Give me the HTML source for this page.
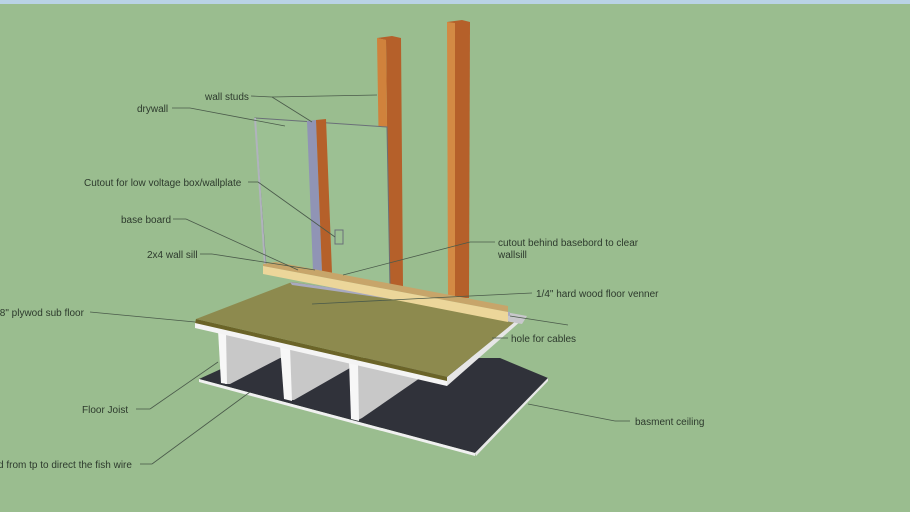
<!DOCTYPE html>
<html><head><style>
html,body{margin:0;padding:0;width:910px;height:512px;overflow:hidden;background:#9abd8f}
svg{display:block}
text{font-family:"Liberation Sans",sans-serif;font-size:10px;fill:#2d3a2d}
</style></head><body>
<svg width="910" height="512" viewBox="0 0 910 512">
<rect x="0" y="0" width="910" height="512" fill="#9abd8f"/>
<rect x="0" y="0" width="910" height="4" fill="#b9d3e6"/>
<!-- basement ceiling -->
<polygon points="199,379 245,358 500,358 548,378 475,453" fill="#30323a"/>
<polygon points="199,379 475,453 475,456 199,382" fill="#f0f0f0"/>
<polygon points="475,453 548,378 548,381 476,456" fill="#e8e8e8"/>
<!-- joist gray faces -->
<polygon points="225,332 282,346 282,357 230,384 225,384" fill="#c8c8c8"/>
<polygon points="290,348 350,362 350,368 294,400 290,400" fill="#c8c8c8"/>
<polygon points="358,364 420,378 362,418 358,420" fill="#c8c8c8"/>
<!-- joist fronts -->
<polygon points="218,330 226,332 227,384 221,383" fill="#f7f7f7"/>
<polygon points="280,345 290,347 292,401 284,399" fill="#f7f7f7"/>
<polygon points="349,361 358,363 359,421 351,419" fill="#f7f7f7"/>
<!-- plywood rim -->
<polygon points="195,322 447,380 447,386 195,328" fill="#f4f4f4"/>
<polygon points="196,319 447,377 447,381 195,323" fill="#6b6428"/>
<polygon points="447,377 522,316 522,320 447,386" fill="#e6e6e6"/>
<!-- plywood top -->
<polygon points="196,319 292,282 522,316 447,377" fill="#8d8a4e"/>
<!-- hole plate -->
<polygon points="505,312 527,316 522,324 500,320" fill="#c8c8cc"/>
<!-- floor veneer strip -->
<polygon points="290,282 510,312 510,316 292,285" fill="#a9aac0"/>
<!-- studs back -->
<polygon points="377,38 392,36 401,38 403,287 389,285 386,40" fill="#b5602a"/>
<polygon points="377,38 386,40 389,285 381,283" fill="#d0823c"/>
<polygon points="447,22 462,20 470,22 469,298 455,298" fill="#b5602a"/>
<polygon points="447,22 455,23 455,298 448,296" fill="#d38a44"/>
<!-- drywall -->
<polygon points="255,118 387,127 390,287 266,266" fill="#9cc093" stroke="#6a6f78" stroke-width="1"/>
<line x1="255" y1="118" x2="265" y2="265" stroke="#b0b3bd" stroke-width="2"/>
<!-- near stud -->
<polygon points="307,121 316,120 322,272 313,271" fill="#9094b5"/>
<polygon points="316,120 326,119 332,273 322,272" fill="#b5602a"/>
<!-- cutout -->
<rect x="335" y="230" width="8" height="14" fill="none" stroke="#6a6f78"/>
<!-- baseboard -->
<polygon points="263,264 276,262 508,306 508,312 263,266" fill="#c7a56a"/>
<polygon points="263,266 508,312 508,322 263,274" fill="#ecd69a"/>
<!-- leader lines -->
<g stroke="#4a5a4a" stroke-width="0.8" fill="none">
<line x1="251" y1="96" x2="272" y2="97"/><line x1="272" y1="97" x2="377" y2="95"/><line x1="272" y1="97" x2="312" y2="122"/>
<line x1="172" y1="108" x2="190" y2="108"/><line x1="190" y1="108" x2="285" y2="126"/>
<line x1="248" y1="182" x2="258" y2="182"/><line x1="258" y1="182" x2="335" y2="237"/>
<line x1="173" y1="219" x2="186" y2="219"/><line x1="186" y1="219" x2="298" y2="270"/>
<line x1="200" y1="254" x2="212" y2="254"/><line x1="212" y1="254" x2="315" y2="270"/>
<line x1="90" y1="312" x2="195" y2="322"/>
<line x1="495" y1="242" x2="470" y2="242"/><line x1="470" y1="242" x2="343" y2="275"/>
<line x1="532" y1="293" x2="470" y2="296"/><line x1="470" y1="296" x2="312" y2="304"/>
<line x1="510" y1="316" x2="568" y2="325"/>
<line x1="508" y1="338" x2="492" y2="338"/>
<line x1="136" y1="409" x2="150" y2="409"/><line x1="150" y1="409" x2="218" y2="362"/>
<line x1="140" y1="464" x2="152" y2="464"/><line x1="152" y1="464" x2="250" y2="392"/>
<line x1="630" y1="421" x2="615" y2="421"/><line x1="615" y1="421" x2="528" y2="404"/>
</g>
<!-- labels -->
<text x="205" y="100">wall studs</text>
<text x="137" y="112">drywall</text>
<text x="84" y="186">Cutout for  low voltage box/wallplate</text>
<text x="121" y="223">base board</text>
<text x="147" y="258">2x4 wall sill</text>
<text x="498" y="246">cutout behind  basebord to clear</text>
<text x="498" y="258">wallsill</text>
<text x="536" y="297">1/4" hard wood floor venner</text>
<text x="-3" y="316">/8" plywod sub floor</text>
<text x="511" y="342">hole for cables</text>
<text x="82" y="413">Floor Joist</text>
<text x="635" y="425">basment ceiling</text>
<text x="-2" y="468">d from tp to direct the fish wire</text>
</svg>
</body></html>
